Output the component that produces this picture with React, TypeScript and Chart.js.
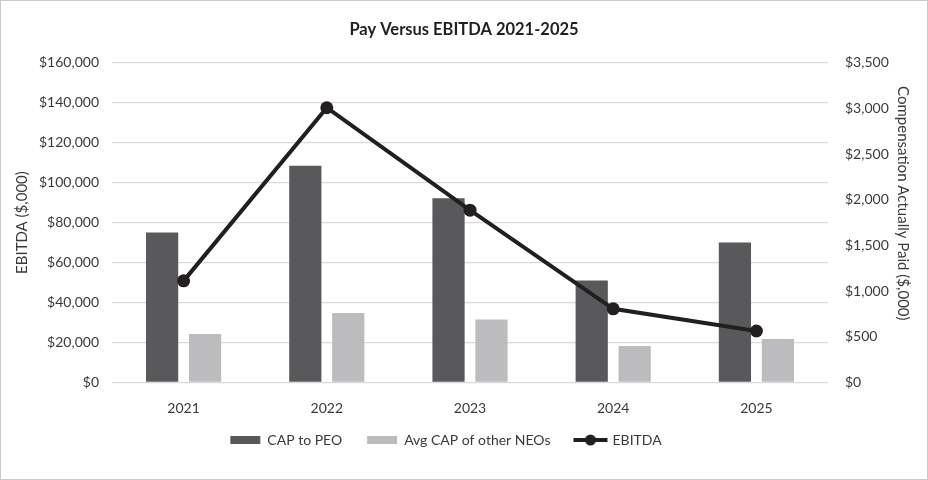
import React, { useEffect, useRef } from "react";
import { Chart, registerables } from "chart.js";

Chart.register(...registerables);

const categories = ["2021", "2022", "2023", "2024", "2025"];
const capToPeo = [1641, 2373, 2016, 1116, 1531];
const avgCapOtherNeos = [529, 758, 689, 397, 474];
const ebitda = [50800, 137500, 86200, 36800, 25700];

const FONT = "Lato";
const TEXT = "#3a3a3a";

function makeLineMarker(): HTMLCanvasElement {
  const c = document.createElement("canvas");
  c.width = 36;
  c.height = 14;
  const ctx = c.getContext("2d")!;
  ctx.strokeStyle = "#231f20";
  ctx.lineWidth = 4;
  ctx.beginPath();
  ctx.moveTo(1, 7);
  ctx.lineTo(35, 7);
  ctx.stroke();
  ctx.fillStyle = "#231f20";
  ctx.beginPath();
  ctx.arc(18, 7, 5.5, 0, Math.PI * 2);
  ctx.fill();
  return c;
}

const legendShift = {
  id: "legendShift",
  afterLayout(chart: any) {
    if (chart.legend) {
      chart.legend.left -= 18;
      chart.legend.right -= 18;
      chart.legend.top -= 10.3;
      chart.legend.bottom -= 10.3;
    }
  },
};

export default function App() {
  const ref = useRef<HTMLCanvasElement | null>(null);

  useEffect(() => {
    if (!ref.current) return;
    const marker = makeLineMarker();
    const money = (v: any) => "$" + Number(v).toLocaleString("en-US");
    const chart = new Chart(ref.current, {
      type: "bar",
      data: {
        labels: categories,
        datasets: [
          {
            type: "bar",
            label: "CAP to PEO",
            data: capToPeo,
            backgroundColor: "#59595b",
            yAxisID: "y1",
            order: 2,
            categoryPercentage: 0.6,
            barPercentage: 0.75,
          },
          {
            type: "bar",
            label: "Avg CAP of other NEOs",
            data: avgCapOtherNeos,
            backgroundColor: "#bcbcbe",
            yAxisID: "y1",
            order: 3,
            categoryPercentage: 0.6,
            barPercentage: 0.75,
          },
          {
            type: "line",
            label: "EBITDA",
            data: ebitda,
            borderColor: "#231f20",
            backgroundColor: "#231f20",
            borderWidth: 4,
            pointRadius: 6.5,
            pointBackgroundColor: "#231f20",
            pointBorderWidth: 0,
            yAxisID: "y",
            order: 1,
            tension: 0,
          } as any,
        ],
      },
      plugins: [legendShift],
      options: {
        responsive: false,
        animation: false,
        layout: { padding: { left: 0, right: 0, top: 0, bottom: 11.7 } },
        plugins: {
          title: {
            display: true,
            text: "Pay Versus EBITDA 2021-2025",
            color: "#231f20",
            font: { family: FONT, size: 16.5, weight: "bold" },
            padding: { top: 19, bottom: 23 },
          },
          legend: {
            position: "bottom",
            labels: {
              font: { family: FONT, size: 14 },
              color: TEXT,
              usePointStyle: true,
              pointStyleWidth: 30,
              boxHeight: 8,
              padding: 25,
              sort: (a: any, b: any) => a.datasetIndex - b.datasetIndex,
              generateLabels: (ch: any) => {
                const base = Chart.defaults.plugins.legend.labels.generateLabels(ch);
                return base.map((l: any) => {
                  if (l.datasetIndex === 2) {
                    return { ...l, pointStyle: marker, lineWidth: 0 };
                  }
                  return { ...l, pointStyle: "rect", lineWidth: 0, strokeStyle: l.fillStyle };
                });
              },
            },
          },
          tooltip: { enabled: false },
        },
        scales: {
          x: {
            grid: { display: false },
            border: { display: false },
            ticks: { color: TEXT, font: { family: FONT, size: 14 }, padding: 10 },
            afterFit: (s: any) => {
              s.height = 36;
            },
          },
          y: {
            position: "left",
            min: 0,
            max: 160000,
            border: { display: false },
            grid: { color: "#d9d9d9", lineWidth: 1.3, drawTicks: false },
            ticks: {
              stepSize: 20000,
              color: TEXT,
              font: { family: FONT, size: 14 },
              padding: 13,
              callback: money,
            },
            title: {
              display: true,
              text: "EBITDA ($,000)",
              color: TEXT,
              font: { family: FONT, size: 15 },
              padding: { top: 12, bottom: 0 },
            },
            afterFit: (s: any) => {
              s.width = 111;
            },
          },
          y1: {
            position: "right",
            min: 0,
            max: 3500,
            border: { display: false },
            grid: { drawOnChartArea: false, drawTicks: false },
            ticks: {
              stepSize: 500,
              color: TEXT,
              font: { family: FONT, size: 14 },
              padding: 17,
              callback: money,
            },
            title: {
              display: true,
              text: "Compensation Actually Paid ($,000)" + "          ",
              color: TEXT,
              font: { family: FONT, size: 15 },
              padding: { top: 15, bottom: 0 },
            },
            afterFit: (s: any) => {
              s.width = 99;
            },
          },
        },
      },
    });
    return () => chart.destroy();
  }, []);

  return (
    <div
      style={{
        position: "absolute",
        left: 0,
        top: 0,
        width: 928,
        height: 480,
        boxSizing: "border-box",
        border: "1px solid #c8c8c8",
        background: "#fff",
      }}
    >
      <canvas ref={ref} width={926} height={478} style={{ display: "block" }} />
    </div>
  );
}
